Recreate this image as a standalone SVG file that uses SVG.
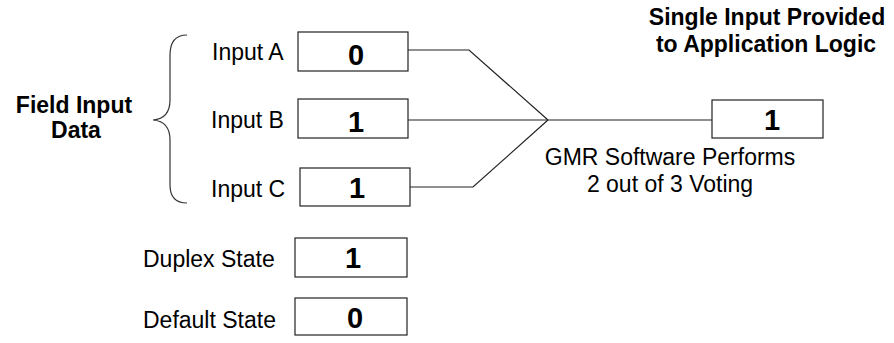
<svg xmlns="http://www.w3.org/2000/svg" width="894" height="343" viewBox="0 0 894 343">
<style>
text{font-family:"Liberation Sans",Arial,sans-serif;fill:#000}
.lbl{font-size:23px}
.bl{font-size:23px;font-weight:bold}
.num{font-size:29px;font-weight:bold;text-anchor:middle}
.box{fill:#fff;stroke:#222;stroke-width:1.2}
.wire{fill:none;stroke:#222;stroke-width:1.2}
</style>
<rect width="894" height="343" fill="#fff"/>
<g id="field-label">
<text class="bl" x="74" y="113" text-anchor="middle">Field Input</text>
<text class="bl" x="76" y="138" text-anchor="middle">Data</text>
<path d="M187,35 C175,35 170,42 170,55 L170,100 C170,112 165,119 153,120 C165,121 170,128 170,140 L170,185 C170,197 175,203 187,203" fill="none" stroke="#333" stroke-width="1.2"/>
</g>
<g id="input-a">
<text class="lbl" x="212" y="60">Input A</text>
<rect class="box" x="298" y="32" width="110" height="39"/>
<text class="num" x="356" y="65">0</text>
</g>
<g id="input-b">
<text class="lbl" x="211" y="128">Input B</text>
<rect class="box" x="298" y="99" width="110" height="39"/>
<text class="num" x="356" y="132">1</text>
</g>
<g id="input-c">
<text class="lbl" x="211" y="197">Input C</text>
<rect class="box" x="300" y="168" width="110" height="38"/>
<text class="num" x="357" y="198">1</text>
</g>
<g id="duplex">
<text class="lbl" x="143" y="267">Duplex State</text>
<rect class="box" x="295" y="238" width="112" height="39"/>
<text class="num" x="353" y="268">1</text>
</g>
<g id="default">
<text class="lbl" x="143" y="328">Default State</text>
<rect class="box" x="295" y="298" width="112" height="37"/>
<text class="num" x="355" y="328">0</text>
</g>
<g id="output">
<text class="bl" x="767" y="25" text-anchor="middle">Single Input Provided</text>
<text class="bl" x="766" y="52" text-anchor="middle">to Application Logic</text>
<rect class="box" x="712" y="100" width="111" height="38"/>
<text class="num" x="772" y="130">1</text>
</g>
<g id="voter">
<text class="lbl" x="670" y="165" text-anchor="middle">GMR Software Performs</text>
<text class="lbl" x="670" y="192" text-anchor="middle">2 out of 3 Voting</text>
</g>
<g id="connectors">
<polyline class="wire" points="408,50 469,50 548,120" stroke="#666"/>
<line class="wire" x1="408" y1="120" x2="712" y2="120"/>
<polyline class="wire" points="410,187 473,187 548,120"/>
</g>
</svg>
